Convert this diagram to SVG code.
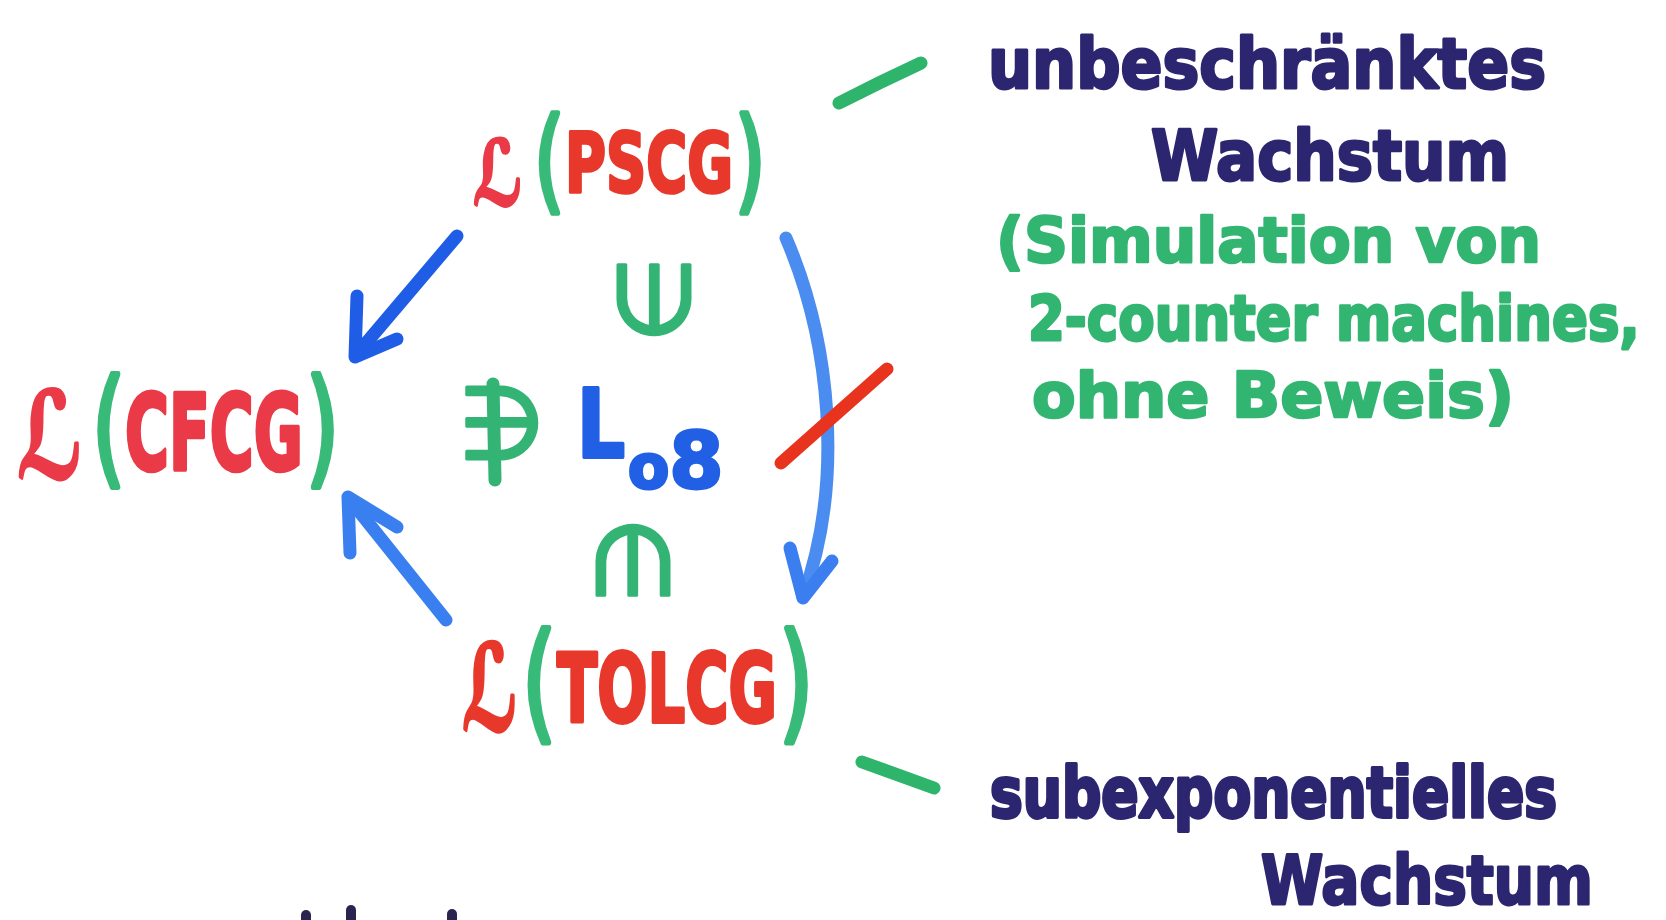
<svg xmlns="http://www.w3.org/2000/svg" width="1666" height="920" viewBox="0 0 1666 920">
  <defs>
    <style>
      text { font-family: "DejaVu Sans", "Liberation Sans", sans-serif; stroke-linejoin: round; stroke-linecap: round; }
      .red { fill: #e8382c; stroke: #e8382c; stroke-width: 2.5; font-weight: bold; }
      .pink { fill: #ea3a48; stroke: #ea3a48; stroke-width: 2.5; font-weight: bold; }
      .paren { fill: #38ba78; stroke: #38ba78; stroke-width: 4; font-weight: normal; }
      .sym { fill: #34b474; stroke: #34b474; stroke-width: 3; }
      .blue-t { fill: #2160e4; stroke: #2160e4; stroke-width: 3; font-weight: bold; }
      .navy { fill: #2c2570; stroke: #2c2570; stroke-width: 3; font-weight: bold; }
      .green-t { fill: #33b572; stroke: #33b572; stroke-width: 2.5; font-weight: bold; }
      .stroke { fill: none; stroke-linecap: round; stroke-linejoin: round; stroke-width: 13; }
    </style>
  </defs>

  <rect width="1666" height="920" fill="#ffffff"/>

  <!-- L(PSCG) -->
  <g id="node-pscg">
    <text class="pink" transform="translate(473,205) scale(1,1.45)" font-size="62" textLength="50" lengthAdjust="spacingAndGlyphs">ℒ</text>
    <text class="paren" transform="translate(534,198) scale(1,1.43)" font-size="78">(</text>
    <text class="red" transform="translate(565,192) scale(1,1.45)" font-size="57" textLength="168" lengthAdjust="spacingAndGlyphs">PSCG</text>
    <text class="paren" transform="translate(735,198) scale(1,1.43)" font-size="78">)</text>
  </g>

  <!-- L(CFCG) -->
  <g id="node-cfcg">
    <text class="pink" transform="translate(17,478) scale(1,1.5)" font-size="80" textLength="66" lengthAdjust="spacingAndGlyphs">ℒ</text>
    <text class="paren" transform="translate(92,470) scale(1,1.48)" font-size="85">(</text>
    <text class="pink" transform="translate(125,470) scale(1,1.75)" font-size="60" textLength="178" lengthAdjust="spacingAndGlyphs">CFCG</text>
    <text class="paren" transform="translate(306,470) scale(1,1.48)" font-size="85">)</text>
  </g>

  <!-- L(TOLCG) -->
  <g id="node-tolcg">
    <text class="red" transform="translate(462,730) scale(1,1.75)" font-size="68" textLength="56" lengthAdjust="spacingAndGlyphs">ℒ</text>
    <text class="paren" transform="translate(522,726) scale(1,1.45)" font-size="88">(</text>
    <text class="red" transform="translate(557,722) scale(1,1.6)" font-size="59" textLength="220" lengthAdjust="spacingAndGlyphs">TOLCG</text>
    <text class="paren" transform="translate(779,726) scale(1,1.45)" font-size="88">)</text>
  </g>

  <!-- membership relations around the witness language -->
  <g id="node-witness">
    <text class="sym" transform="translate(654,300) rotate(-90)" x="0" y="0" font-size="100" text-anchor="middle" dominant-baseline="central">∈</text>
    <text class="sym" x="458" y="458" font-size="100">∋</text>
    <path class="stroke" stroke="#34b474" stroke-width="11" d="M493,384 L495,480"/>
    <text class="blue-t" transform="translate(577,457) scale(1,1.26)" font-size="75" textLength="48" lengthAdjust="spacingAndGlyphs">L</text>
    <text class="blue-t" x="628" y="488" font-size="60">o<tspan font-size="78">8</tspan></text>
    <text class="sym" transform="translate(632,560) rotate(90)" x="0" y="0" font-size="100" text-anchor="middle" dominant-baseline="central">∈</text>
  </g>

  <!-- connectors -->
  <g id="connectors">
    <path class="stroke" stroke="#1f5de6" d="M457,236 L356,355"/>
    <path class="stroke" stroke="#1f5de6" d="M357,296 L355,357 L397,339"/>
    <path class="stroke" stroke="#3a7ff0" d="M446,620 L350,500"/>
    <path class="stroke" stroke="#3a7ff0" d="M350,553 L348,497 L397,527"/>
    <path class="stroke" stroke="#4a8cf0" d="M786,238 C830,340 845,480 803,597"/>
    <path class="stroke" stroke="#3b7ef0" d="M790,548 L803,598 L832,561"/>
    <path class="stroke" stroke="#e8331f" stroke-width="15" d="M781,463 L887,369"/>
    <path class="stroke" stroke="#2eb56b" d="M839,103 Q880,82 921,63"/>
    <path class="stroke" stroke="#2eb56b" d="M862,762 L934,788"/>
  </g>

  <!-- annotations -->
  <g id="note-top">
    <text class="navy" x="988" y="88" font-size="70" textLength="558" lengthAdjust="spacingAndGlyphs">unbeschränktes</text>
    <text class="navy" x="1151" y="180" font-size="70" textLength="358" lengthAdjust="spacingAndGlyphs">Wachstum</text>
    <text class="green-t" x="996" y="262" font-size="62" textLength="545" lengthAdjust="spacingAndGlyphs">(Simulation von</text>
    <text class="green-t" transform="translate(1028,340) scale(1,1.17)" font-size="53">2-counter machines,</text>
    <text class="green-t" x="1032" y="417" font-size="62" textLength="482" lengthAdjust="spacingAndGlyphs">ohne Beweis)</text>
  </g>

  <g id="note-bottom">
    <text class="navy" transform="translate(990,817) scale(1,1.27)" font-size="55">subexponentielles</text>
    <text class="navy" x="1261" y="904" font-size="68" textLength="332" lengthAdjust="spacingAndGlyphs">Wachstum</text>
  </g>

  <!-- marker tips at the lower edge -->
  <g id="edge-marks" fill="none" stroke="#2a2550" stroke-linecap="round" stroke-width="10">
    <path d="M306,925 L306,915"/>
    <path d="M351,925 L351,910"/>
    <path d="M452,925 L452,914"/>
  </g>
</svg>
